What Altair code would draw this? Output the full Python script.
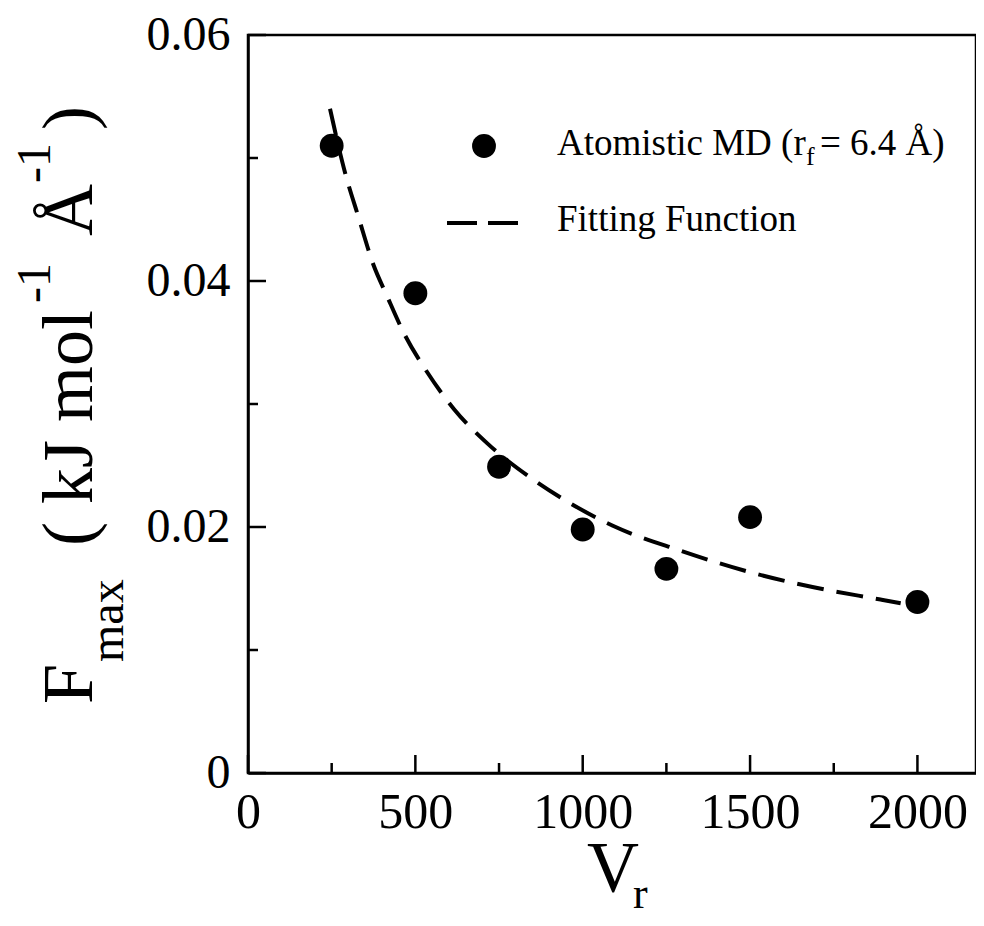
import altair as alt
import pandas as pd

# ---------------- data ----------------
md_vr = [250, 500, 750, 1000, 1250, 1500, 2000]
md_fmax = [0.0510, 0.0390, 0.0249, 0.0198, 0.0166, 0.0208, 0.0139]

fit_vr = [245, 290, 330, 375, 415, 465, 535, 615, 715, 850, 940, 1090, 1290, 1490, 1690, 1890, 1950]
fit_fmax = [0.0540, 0.0488, 0.0452, 0.0413, 0.0388, 0.0358, 0.0326, 0.0296, 0.0268, 0.0239,
            0.0223, 0.0201, 0.0181, 0.0164, 0.0151, 0.0141, 0.0138]

x_major = [0, 500, 1000, 1500, 2000]
x_minor = [250, 750, 1250, 1750]
y_major = [0.0, 0.02, 0.04, 0.06]
y_minor = [0.01, 0.03, 0.05]

FONT = "Liberation Serif"
W, H = 728, 738
OX, OY = 248, 35  # plot origin on page (for decoration text placement)

md = pd.DataFrame({"V": md_vr, "F": md_fmax})
fit = pd.DataFrame({"V": fit_vr, "F": fit_fmax})
xmaj = pd.DataFrame({"V": x_major})
xmin = pd.DataFrame({"V": x_minor})
ymaj = pd.DataFrame({"F": y_major})
ymin = pd.DataFrame({"F": y_minor})
dummy = pd.DataFrame({"a": [0]})

xs = alt.Scale(domain=[0, 2175], nice=False, zero=False)
ys = alt.Scale(domain=[0, 0.06], nice=False, zero=False)
xaxis = alt.Axis(values=x_major, format="d", title=None, ticks=False, tickSize=0, grid=False,
                 labelFont=FONT, labelFontSize=50, labelColor="black", labelPadding=14,
                 labelFlush=False, labelOverlap=False, domainColor="black", domainWidth=2.5)
yaxis = alt.Axis(values=y_major, title=None, ticks=False, tickSize=0, grid=False,
                 labelExpr="datum.value == 0 ? '0' : format(datum.value, '.2f')",
                 labelFont=FONT, labelFontSize=48, labelColor="black", labelPadding=18,
                 labelFlush=False, labelOverlap=False, domainColor="black", domainWidth=2.5)

X = alt.X("V:Q", scale=xs, axis=xaxis)
Y = alt.Y("F:Q", scale=ys, axis=yaxis)

points = alt.Chart(md).mark_circle(size=570, color="black", opacity=1).encode(x=X, y=Y)
curve = alt.Chart(fit).mark_line(color="black", strokeWidth=4, strokeDash=[27, 13],
                                 interpolate="monotone").encode(x=X, y=Y)

tick_style = dict(color="black", strokeWidth=2.5)
xt_major = alt.Chart(xmaj).mark_rule(**tick_style).encode(x=X, y=alt.value(H), y2=alt.value(H - 18))
xt_minor = alt.Chart(xmin).mark_rule(**tick_style).encode(x=X, y=alt.value(H), y2=alt.value(H - 10))
yt_major = alt.Chart(ymaj).mark_rule(**tick_style).encode(y=Y, x=alt.value(0), x2=alt.value(18))
yt_minor = alt.Chart(ymin).mark_rule(**tick_style).encode(y=Y, x=alt.value(0), x2=alt.value(10))


def txt(s, px, py, size, angle=0, align="left", baseline="alphabetic"):
    return alt.Chart(dummy).mark_text(text=s, font=FONT, fontSize=size, angle=angle, align=align,
                                      baseline=baseline, color="black").encode(
        x=alt.value(px - OX), y=alt.value(py - OY))


# legend
leg_dot = alt.Chart(dummy).mark_circle(size=570, color="black", opacity=1).encode(
    x=alt.value(484 - OX), y=alt.value(146 - OY))
leg_line = alt.Chart(dummy).mark_rule(color="black", strokeWidth=4, strokeDash=[30, 11]).encode(
    x=alt.value(447 - OX), x2=alt.value(519 - OX), y=alt.value(223 - OY))
leg_texts = [
    txt("Atomistic MD (r", 557, 155, 37),
    txt("f", 806, 165, 26),
    txt("= 6.4 Å)", 820, 155, 37),
    txt("Fitting Function", 557, 231, 37),
]

# x title
x_title = [txt("V", 587, 891, 72), txt("r", 633, 908, 44)]

# y title (rotated, reading bottom to top)
y_title = [
    txt("F", 92, 704, 72, angle=270),
    txt("max", 123, 662, 48, angle=270),
    txt("( kJ mol", 92, 546, 72, angle=270),
    txt("-1", 50, 303, 48, angle=270),
    txt("Å", 92, 236, 72, angle=270),
    txt("-1", 50, 183, 48, angle=270),
    txt(")", 92, 130, 72, angle=270),
]

chart = alt.layer(
    curve, points, xt_major, xt_minor, yt_major, yt_minor,
    leg_dot, leg_line, *leg_texts, *x_title, *y_title
).properties(
    width=W, height=H,
    autosize=alt.AutoSizeParams(type="none"),
    padding={"left": 240, "top": 27, "right": 0, "bottom": 143},
    background="white",
).configure_view(stroke="black", strokeWidth=2.5)

chart.save("out.html", embed_options={"renderer": "svg", "actions": False})
